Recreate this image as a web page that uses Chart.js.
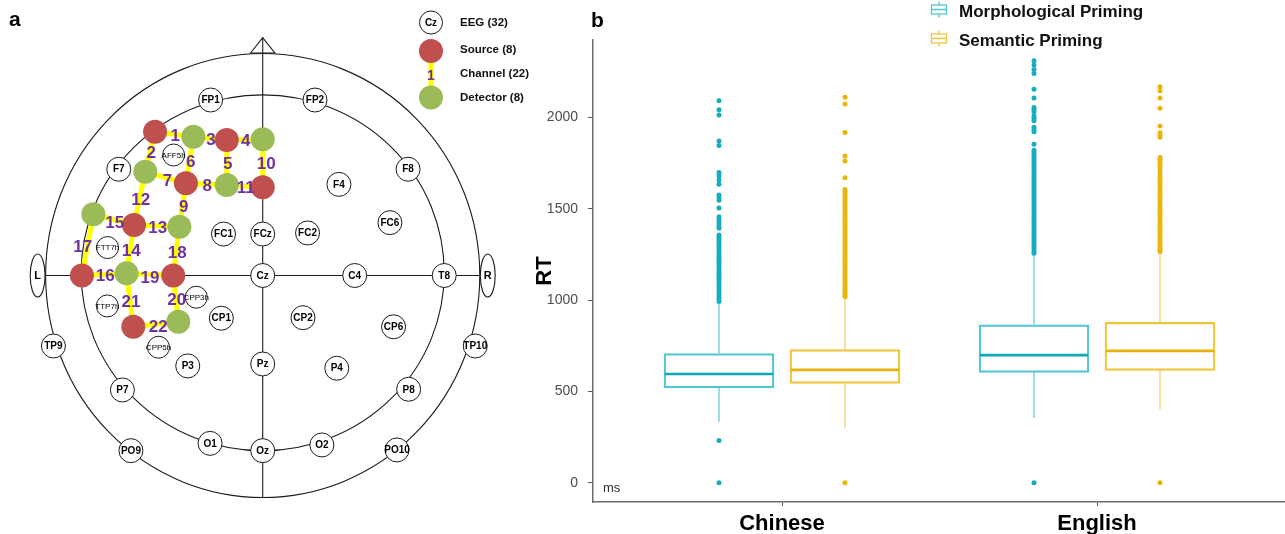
<!DOCTYPE html>
<html>
<head>
<meta charset="utf-8">
<script src="https://cdn.jsdelivr.net/npm/chart.js@4.4.0/dist/chart.umd.min.js"></script>
<style>
html,body{margin:0;padding:0;background:#fff;overflow:hidden;width:1285px;height:534px;}
#wrap{position:relative;width:1285px;height:534px;overflow:hidden;}
#montage{position:absolute;left:0;top:0;}
#rt{position:absolute;left:520px;top:0;}
.panel{position:absolute;font:bold 21px "Liberation Sans",Arial,sans-serif;color:#000;line-height:1;}
</style>
</head>
<body>
<div id="wrap">
  <canvas id="montage" width="540" height="534"></canvas>
  <canvas id="rt" width="780" height="534"></canvas>
  <div class="panel" style="left:9px;top:8px">a</div>
  <div class="panel" style="left:591px;top:9px">b</div>
</div>
<script>
// ================= DATA: panel a (montage, head coordinates; inner circle radius = 100) =================
const eegNames = ['FP1','FP2','AFF5h','F7','F4','F8','FC1','FCz','FC2','FC6','FTT7h','Cz','C4','T8','CPP3h','TTP7h',
                  'CP1','CP2','CP6','TP9','TP10','CPP5h','P3','Pz','P4','P7','P8','O1','Oz','O2','PO9','PO10'];
const eegX = [-28.7, 28.8, -49.1, -79.3, 42.0, 80.1, -21.6, 0, 24.7, 70.1, -85.5, 0, 50.7, 100, -36.6, -85.6,
              -22.8, 22.2, 72.1, -115.3, 117.1, -57.4, -41.3, 0, 40.8, -77.3, 80.4, -29.0, 0, 32.6, -72.6, 74.0];
const eegY = [98.6, 98.6, 67.7, 59.7, 51.2, 59.7, 23.3, 23.3, 23.9, 29.7, 15.7, 0, 0, 0, -12.2, -17.1,
              -24.0, -23.7, -28.8, -39.6, -39.6, -40.3, -50.8, -49.7, -52.1, -64.3, -63.9, -94.3, -98.4, -95.2, -98.4, -98.0];
const sourceX = [-59.3, -19.8, -42.3, 0, -70.9, -99.6, -49.3, -71.3];
const sourceY = [80.8, 76.1, 51.8, 49.6, 28.4, 0, 0, -28.8];
const detectorX = [-38.2, 0, -64.7, -19.8, -93.3, -45.9, -75.0, -46.5];
const detectorY = [78.0, 76.5, 58.3, 50.8, 34.4, 27.4, 1.2, -26.0];
// channel k (1..22) joins source channelSource[k-1] and detector channelDetector[k-1]
const channelSource   = [1,1,2,2,2,3,3,3,3,4,4,5,5,5,5,6,6,7,7,7,8,8];
const channelDetector = [1,3,1,2,4,1,3,4,6,2,4,3,6,7,5,7,5,6,7,8,7,8];

// ================= DATA: panel b (RT box plots, ms) =================
const rtCategories = ['Chinese', 'English'];
const rtSeries = ['Morphological Priming', 'Semantic Priming'];
const rtTicks = [0, 500, 1000, 1500, 2000];
const morphWhiskerLow  = [334, 355];
const morphQ1          = [520, 604];
const morphMedian      = [596, 699];
const morphQ3          = [708, 865];
const morphWhiskerHigh = [985, 1250];
const semWhiskerLow    = [301, 401];
const semQ1            = [544, 615];
const semMedian        = [618, 722];
const semQ3            = [730, 878];
const semWhiskerHigh   = [1010, 1262];
const morphOutChinese = [2091, 2042, 2013, 1871, 1847, 1699, 1679, 1657, 1635, 1575, 1561, 1547, 1505, 1456, 1442, 1427, 1409, 1393,
  1356, 1343, 1330, 1316, 1303, 1289, 1276, 1262, 1249, 1235, 1222, 1208, 1195, 1181, 1168, 1154, 1141, 1127, 1114, 1100,
  1087, 1073, 1060, 1046, 1033, 1019, 1006, 993, 232, 0];
const semOutChinese = [2110, 2073, 1918, 1789, 1761, 1670, 1606, 1593, 1580, 1566, 1553, 1539, 1526, 1512, 1499, 1485, 1472, 1458,
  1445, 1431, 1418, 1404, 1391, 1377, 1364, 1350, 1337, 1323, 1310, 1296, 1283, 1269, 1256, 1242, 1229, 1215, 1202, 1188,
  1175, 1161, 1148, 1134, 1121, 1107, 1094, 1080, 1067, 1053, 1040, 1027, 1018, 0];
const morphOutEnglish = [2310, 2287, 2263, 2241, 2154, 2106, 2055, 2043, 2031, 2008, 1995, 1982, 1946, 1934, 1922, 1853, 1821, 1808,
  1795, 1781, 1768, 1754, 1741, 1727, 1714, 1700, 1687, 1673, 1660, 1646, 1633, 1619, 1606, 1592, 1579, 1565, 1552, 1538,
  1525, 1511, 1498, 1484, 1471, 1457, 1444, 1430, 1417, 1403, 1390, 1376, 1363, 1349, 1336, 1322, 1309, 1295, 1282, 1268, 1257, 0];
const semOutEnglish = [2168, 2146, 2106, 2050, 1953, 1916, 1903, 1891, 1781, 1768, 1754, 1741, 1727, 1712, 1690, 1677, 1663, 1650,
  1636, 1621, 1603, 1590, 1576, 1563, 1549, 1535, 1521, 1503, 1490, 1476, 1463, 1449, 1431, 1418, 1404, 1391, 1377, 1367,
  1354, 1340, 1327, 1313, 1300, 1286, 1273, 1265, 0];

// ================= LAYOUT / STYLE =================
const FONT = '"Liberation Sans", Arial, Helvetica, sans-serif';
Chart.defaults.font.family = FONT;
const MONTAGE_VIEW = {xMin: -144.74, xMax: 152.78, yMin: -145.22, yMax: 154.78};
const HEAD = {outerRx: 119.6, outerRy: 124.7, innerCy: 1.5, innerR: 100, noseApex: 133.6, noseBase: 125.0, noseHalf: 6.7,
              earCx: 124, earRx: 4.1, earRy: 12.1};
const CA = {source: '#C0504D', detector: '#9BBB59', channel: '#FFFF00', number: '#7030A0', ink: '#1a1a1a'};
const CH_LABEL_SHIFT = {def: [1, 2], 7: [2, 3.5], 10: [3.5, 1.5], 15: [1, 3.5], 17: [-5, 2], 19: [0, 3.5], 22: [2.5, 3.5]};
const MONTAGE_LEGEND = {x: 431, textX: 460, eegY: 22.5, srcY: 51, numY: 75, detY: 97.5, textYs: [22.5, 49.5, 74, 97.5]};

const DODGE = 0.2;
const TEAL = {box: '#52C6D2', med: '#10A8B8', whisker: '#3BBCC9', pt: '#17ACBF'};
const GOLD = {box: '#F2C53C', med: '#E8B108', whisker: '#F0C23E', pt: '#E9B60A'};
const RT_LEGEND = {iconX: 419, textX: 439, y0: 9.5, gap: 29};

// ================= PANEL a =================
const channelLineData = [];
channelSource.forEach((s, i) => {
  const d = channelDetector[i];
  channelLineData.push({x: sourceX[s-1], y: sourceY[s-1]});
  channelLineData.push({x: detectorX[d-1], y: detectorY[d-1]});
  channelLineData.push({x: detectorX[d-1], y: null});
});

function dot(ctx, x, y, r, fill, stroke) {
  ctx.beginPath(); ctx.arc(x, y, r, 0, Math.PI * 2);
  ctx.fillStyle = fill; ctx.fill();
  if (stroke) { ctx.strokeStyle = stroke; ctx.lineWidth = 1; ctx.stroke(); }
}

const headPlugin = {
  id: 'head',
  beforeDatasetsDraw(chart) {
    const {ctx, scales: {x, y}} = chart;
    const X = v => x.getPixelForValue(v), Y = v => y.getPixelForValue(v);
    const rx = v => X(v) - X(0), ry = v => Y(0) - Y(v);
    ctx.save();
    ctx.strokeStyle = CA.ink; ctx.lineWidth = 1.1;
    ctx.beginPath(); ctx.ellipse(X(0), Y(0), rx(HEAD.outerRx), ry(HEAD.outerRy), 0, 0, Math.PI * 2); ctx.stroke();
    ctx.beginPath(); ctx.ellipse(X(0), Y(HEAD.innerCy), rx(HEAD.innerR), ry(HEAD.innerR), 0, 0, Math.PI * 2); ctx.stroke();
    ctx.beginPath();
    ctx.moveTo(X(-HEAD.noseHalf), Y(HEAD.noseBase)); ctx.lineTo(X(0), Y(HEAD.noseApex)); ctx.lineTo(X(HEAD.noseHalf), Y(HEAD.noseBase));
    ctx.closePath(); ctx.fillStyle = '#fff'; ctx.fill(); ctx.stroke();
    ctx.beginPath();
    ctx.moveTo(X(0), Y(HEAD.noseApex)); ctx.lineTo(X(0), Y(-HEAD.outerRy));
    ctx.moveTo(X(-HEAD.earCx), Y(0)); ctx.lineTo(X(HEAD.earCx), Y(0));
    ctx.stroke();
    [['L', -1], ['R', 1]].forEach(([t, s]) => {
      ctx.beginPath(); ctx.ellipse(X(s * HEAD.earCx), Y(0), rx(HEAD.earRx), ry(HEAD.earRy), 0, 0, Math.PI * 2);
      ctx.fillStyle = '#fff'; ctx.fill(); ctx.strokeStyle = CA.ink; ctx.stroke();
      ctx.fillStyle = '#000'; ctx.font = 'bold 11px ' + FONT; ctx.textAlign = 'center'; ctx.textBaseline = 'middle';
      ctx.fillText(t, X(s * HEAD.earCx), Y(0) + 0.5);
    });
    ctx.restore();
  }
};

const montageTextPlugin = {
  id: 'montageText',
  afterDatasetsDraw(chart) {
    const {ctx} = chart;
    ctx.save();
    ctx.textAlign = 'center'; ctx.textBaseline = 'middle'; ctx.fillStyle = '#000';
    chart.getDatasetMeta(0).data.forEach((pt, i) => {
      const half = eegNames[i].endsWith('h');
      ctx.font = (half ? '8px ' : 'bold 10px ') + FONT;
      ctx.fillText(eegNames[i], pt.x, pt.y + 0.5);
    });
    const sMeta = chart.getDatasetMeta(2), dMeta = chart.getDatasetMeta(3);
    ctx.font = 'bold 17px ' + FONT; ctx.fillStyle = CA.number;
    channelSource.forEach((s, i) => {
      const a = sMeta.data[s - 1], b = dMeta.data[channelDetector[i] - 1];
      const sh = CH_LABEL_SHIFT[i + 1] || CH_LABEL_SHIFT.def;
      ctx.fillText(String(i + 1), (a.x + b.x) / 2 + sh[0], (a.y + b.y) / 2 + sh[1]);
    });
    ctx.restore();
  }
};

const montageLegendPlugin = {
  id: 'montageLegend',
  afterDraw(chart) {
    const {ctx} = chart, L = MONTAGE_LEGEND;
    ctx.save();
    ctx.strokeStyle = CA.channel; ctx.lineWidth = 5;
    ctx.beginPath(); ctx.moveTo(L.x, L.srcY); ctx.lineTo(L.x, L.detY); ctx.stroke();
    dot(ctx, L.x, L.eegY, 11.5, '#fff', CA.ink);
    dot(ctx, L.x, L.srcY, 12, CA.source);
    dot(ctx, L.x, L.detY, 12, CA.detector);
    ctx.textAlign = 'center'; ctx.textBaseline = 'middle';
    ctx.fillStyle = '#000'; ctx.font = 'bold 10px ' + FONT; ctx.fillText('Cz', L.x, L.eegY + 0.5);
    ctx.fillStyle = CA.number; ctx.font = 'bold 14px ' + FONT; ctx.fillText('1', L.x, L.numY + 1);
    ctx.textAlign = 'left'; ctx.fillStyle = '#111'; ctx.font = 'bold 11.5px ' + FONT;
    const texts = ['EEG (' + eegNames.length + ')', 'Source (' + sourceX.length + ')',
                   'Channel (' + channelSource.length + ')', 'Detector (' + detectorX.length + ')'];
    texts.forEach((t, i) => ctx.fillText(t, L.textX, L.textYs[i]));
    ctx.restore();
  }
};

new Chart(document.getElementById('montage'), {
  type: 'scatter',
  data: {
    datasets: [
      {label: 'EEG', data: eegNames.map((n, i) => ({x: eegX[i], y: eegY[i]})),
       pointRadius: c => (eegNames[c.dataIndex] || '').endsWith('h') ? 11 : 12,
       pointBackgroundColor: '#fff', pointBorderColor: CA.ink, pointBorderWidth: 1, order: 3},
      {label: 'Channel', data: channelLineData, showLine: true, spanGaps: false,
       borderColor: CA.channel, borderWidth: 5, borderCapStyle: 'butt', pointRadius: 0, order: 2},
      {label: 'Source', data: sourceX.map((v, i) => ({x: v, y: sourceY[i]})),
       pointRadius: 12, pointBackgroundColor: CA.source, pointBorderWidth: 0, order: 1},
      {label: 'Detector', data: detectorX.map((v, i) => ({x: v, y: detectorY[i]})),
       pointRadius: 12, pointBackgroundColor: CA.detector, pointBorderWidth: 0, order: 1}
    ]
  },
  options: {
    responsive: false, animation: false, events: [],
    layout: {padding: 0, autoPadding: false},
    scales: {
      x: {type: 'linear', display: false, min: MONTAGE_VIEW.xMin, max: MONTAGE_VIEW.xMax},
      y: {type: 'linear', display: false, min: MONTAGE_VIEW.yMin, max: MONTAGE_VIEW.yMax}
    },
    plugins: {legend: {display: false}, tooltip: {enabled: false}}
  },
  plugins: [headPlugin, montageTextPlugin, montageLegendPlugin]
});

// ================= PANEL b =================
const boxSets = [
  {label: rtSeries[0], q1: morphQ1, q3: morphQ3, med: morphMedian, lo: morphWhiskerLow, hi: morphWhiskerHigh, col: TEAL, shift: -DODGE,
   out: [morphOutChinese, morphOutEnglish]},
  {label: rtSeries[1], q1: semQ1, q3: semQ3, med: semMedian, lo: semWhiskerLow, hi: semWhiskerHigh, col: GOLD, shift: DODGE,
   out: [semOutChinese, semOutEnglish]}
];

const rtDatasets = [];
boxSets.forEach((b, k) => {
  rtDatasets.push({
    type: 'bar', label: b.label, boxIndex: k,
    data: rtCategories.map((c, i) => ({x: i + 1 + b.shift, y: [b.q1[i], b.q3[i]]})),
    backgroundColor: 'rgba(255,255,255,0)', borderColor: b.col.box, borderWidth: 1.6, borderSkipped: false,
    barThickness: 110, grouped: false, order: 2
  });
});
boxSets.forEach((b, k) => {
  const pts = [];
  b.out.forEach((arr, i) => arr.forEach(v => pts.push({x: i + 1 + b.shift, y: v})));
  rtDatasets.push({
    type: 'scatter', label: b.label + ' outliers', data: pts,
    pointRadius: 2.5, pointBackgroundColor: b.col.pt, pointBorderWidth: 0, order: 1
  });
});

const boxStatsPlugin = {
  id: 'boxStats',
  afterDatasetsDraw(chart) {
    const {ctx, scales: {y}} = chart;
    ctx.save();
    chart.data.datasets.forEach((ds, di) => {
      if (ds.type !== 'bar') return;
      const b = boxSets[ds.boxIndex];
      chart.getDatasetMeta(di).data.forEach((el, i) => {
        const half = el.width / 2;
        ctx.strokeStyle = b.col.whisker; ctx.lineWidth = 1;
        ctx.beginPath();
        ctx.moveTo(el.x, y.getPixelForValue(b.q3[i])); ctx.lineTo(el.x, y.getPixelForValue(b.hi[i]));
        ctx.moveTo(el.x, y.getPixelForValue(b.q1[i])); ctx.lineTo(el.x, y.getPixelForValue(b.lo[i]));
        ctx.stroke();
        ctx.strokeStyle = b.col.med; ctx.lineWidth = 2.6;
        const ym = y.getPixelForValue(b.med[i]);
        ctx.beginPath(); ctx.moveTo(el.x - half + 0.8, ym); ctx.lineTo(el.x + half - 0.8, ym); ctx.stroke();
      });
    });
    ctx.restore();
  }
};

const rtDecorPlugin = {
  id: 'rtDecor',
  afterDraw(chart) {
    const {ctx, chartArea} = chart, L = RT_LEGEND;
    ctx.save();
    ctx.fillStyle = '#333'; ctx.font = '13px ' + FONT; ctx.textAlign = 'left'; ctx.textBaseline = 'middle';
    ctx.fillText('ms', chartArea.left + 10, chartArea.bottom - 14);
    boxSets.forEach((b, k) => {
      const cy = L.y0 + k * L.gap;
      ctx.strokeStyle = b.col.box; ctx.lineWidth = 1.3;
      ctx.strokeRect(L.iconX - 7.5, cy - 4.5, 15, 9);
      ctx.beginPath();
      ctx.moveTo(L.iconX - 7.5, cy); ctx.lineTo(L.iconX + 7.5, cy);
      ctx.moveTo(L.iconX, cy - 8); ctx.lineTo(L.iconX, cy - 4.5);
      ctx.moveTo(L.iconX, cy + 4.5); ctx.lineTo(L.iconX, cy + 8);
      ctx.stroke();
      ctx.fillStyle = '#111'; ctx.font = 'bold 17px ' + FONT;
      ctx.fillText(b.label, L.textX, cy + 2.5);
    });
    ctx.restore();
  }
};

new Chart(document.getElementById('rt'), {
  type: 'bar',
  data: {datasets: rtDatasets},
  options: {
    responsive: false, animation: false, events: [],
    layout: {padding: {top: 40, right: 14, bottom: 0, left: 0}, autoPadding: false},
    scales: {
      x: {
        type: 'linear', min: 0.4, max: 2.6, offset: false,
        afterBuildTicks: s => { s.ticks = rtCategories.map((c, i) => ({value: i + 1})); },
        ticks: {callback: v => rtCategories[Math.round(v) - 1], autoSkip: false, maxRotation: 0,
                font: {size: 22, weight: 'bold'}, color: '#000', padding: 5},
        grid: {offset: false, drawOnChartArea: false, drawTicks: true, tickLength: 4, color: '#555'},
        border: {display: true, color: '#6b6b6b', width: 1.5},
        afterFit: s => { s.height = 32; }
      },
      y: {
        type: 'linear', min: -105, max: 2424,
        afterBuildTicks: s => { s.ticks = rtTicks.map(v => ({value: v})); },
        ticks: {callback: v => String(v), font: {size: 14}, color: '#4d4d4d', padding: 10},
        grid: {drawOnChartArea: false, drawTicks: true, tickLength: 5, color: '#555'},
        border: {display: true, color: '#6b6b6b', width: 1.5},
        title: {display: true, text: 'RT', font: {size: 22, weight: 'bold'}, color: '#000', padding: {top: 12, bottom: 0}},
        afterFit: s => { s.width = 73; }
      }
    },
    plugins: {legend: {display: false}, tooltip: {enabled: false}}
  },
  plugins: [boxStatsPlugin, rtDecorPlugin]
});
</script>
</body>
</html>
